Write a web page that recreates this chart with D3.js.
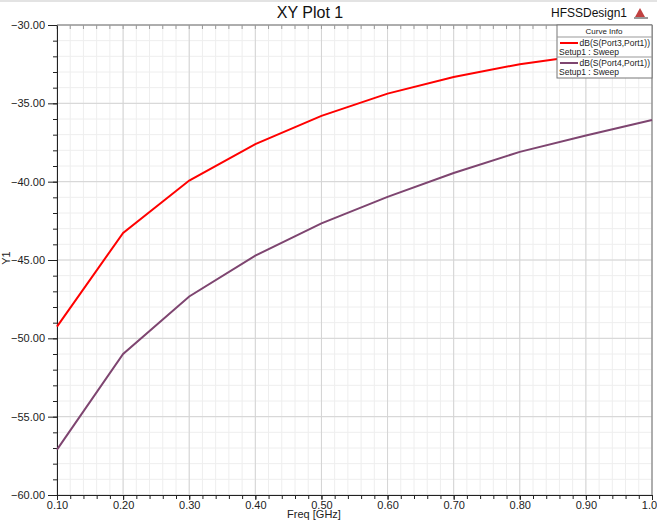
<!DOCTYPE html>
<html>
<head>
<meta charset="utf-8">
<script src="https://cdn.jsdelivr.net/npm/d3@7"></script>
<style>
  body { margin: 0; background: #fff; }
  svg { display: block; font-family: "Liberation Sans", Arial, sans-serif; }
</style>
</head>
<body>
<div id="chart"></div>
<script>
    // Data
    const freq = [0.1, 0.2, 0.3, 0.4, 0.5, 0.6, 0.7, 0.8, 0.9, 1.0];
    const s31 = [-49.25, -43.27, -39.93, -37.6, -35.8, -34.38, -33.32, -32.5, -31.92, -31.45];
    const s41 = [-57.1, -51.0, -47.33, -44.72, -42.66, -40.97, -39.45, -38.1, -37.05, -36.06];
    const xTicks = [0.1, 0.2, 0.3, 0.4, 0.5, 0.6, 0.7, 0.8, 0.9, 1.0];
    const yTicks = [-60, -55, -50, -45, -40, -35, -30];
    const seriesNames = ["dB(S(Port3,Port1))", "dB(S(Port4,Port1))"];
    const seriesColors = ["#ff0000", "#7e4570"];

    const width = 657, height = 521;
    const margin = { top: 25, right: 5, bottom: 26, left: 57 };

    const svg = d3.select("#chart").append("svg")
        .attr("width", width)
        .attr("height", height);

    // thin grey strip at top of window
    svg.append("rect").attr("x", 0).attr("y", 0).attr("width", width).attr("height", 2).attr("fill", "#e3e3e3");

    const x = d3.scaleLinear().domain([0.1, 1.0]).range([margin.left, width - margin.right]);
    const y = d3.scaleLinear().domain([-60, -30]).range([height - margin.bottom, margin.top]);

    // minor grid
    const xMinor = d3.range(0.1, 1.0001, 0.02);
    const yMinor = d3.range(-60, -29.99, 1);
    svg.append("g").selectAll("line").data(xMinor).enter().append("line")
        .attr("x1", d => x(d)).attr("x2", d => x(d))
        .attr("y1", y(-60)).attr("y2", y(-30))
        .attr("stroke", "#eeeeee");
    svg.append("g").selectAll("line").data(yMinor).enter().append("line")
        .attr("x1", x(0.1)).attr("x2", x(1.0))
        .attr("y1", d => y(d)).attr("y2", d => y(d))
        .attr("stroke", "#eeeeee");
    // major grid
    svg.append("g").selectAll("line").data(xTicks).enter().append("line")
        .attr("x1", d => x(d)).attr("x2", d => x(d))
        .attr("y1", y(-60)).attr("y2", y(-30))
        .attr("stroke", "#d4d4d4");
    svg.append("g").selectAll("line").data(yTicks).enter().append("line")
        .attr("x1", x(0.1)).attr("x2", x(1.0))
        .attr("y1", d => y(d)).attr("y2", d => y(d))
        .attr("stroke", "#d4d4d4");

    // top and right frame
    svg.append("line").attr("x1", x(0.1)).attr("x2", x(1.0)).attr("y1", y(-30)).attr("y2", y(-30)).attr("stroke", "#777");
    svg.append("line").attr("x1", x(1.0)).attr("x2", x(1.0)).attr("y1", y(-30)).attr("y2", y(-60)).attr("stroke", "#777");
    // top minor ticks
    svg.append("g").selectAll("line").data(xMinor).enter().append("line")
        .attr("x1", d => x(d)).attr("x2", d => x(d))
        .attr("y1", y(-30)).attr("y2", y(-30) + 4)
        .attr("stroke", "#999");

    // axes
    const fmt = d3.format(".2f");
    const xAxis = svg.append("g").attr("transform", `translate(0,${y(-60)})`)
        .call(d3.axisBottom(x).tickValues(xTicks).tickFormat(fmt).tickSize(5).tickSizeOuter(0));
    svg.append("g").attr("transform", `translate(0,${y(-60)})`)
        .call(d3.axisBottom(x).tickValues(xMinor).tickFormat("").tickSize(4).tickSizeOuter(0))
        .call(g => g.select(".domain").remove());
    const yAxis = svg.append("g").attr("transform", `translate(${x(0.1)},0)`)
        .call(d3.axisLeft(y).tickValues(yTicks).tickFormat(fmt).tickSize(9).tickSizeOuter(0));
    svg.append("g").attr("transform", `translate(${x(0.1)},0)`)
        .call(d3.axisLeft(y).tickValues(yMinor).tickFormat("").tickSize(4).tickSizeOuter(0))
        .call(g => g.select(".domain").remove());
    svg.selectAll(".tick text").attr("font-size", 11).attr("font-family", "Liberation Sans, Arial, sans-serif").attr("fill", "#222");
    svg.selectAll(".tick line, .domain").attr("stroke", "#222");
    xAxis.selectAll(".tick text").attr("dy", "0.75em").attr("y", 6);
    yAxis.selectAll(".tick text").attr("x", -12);

    // lines
    const line = d3.line().x(d => x(d[0])).y(d => y(d[1]));
    [s31, s41].forEach((s, i) => {
        svg.append("path")
            .datum(freq.map((f, j) => [f, s[j]]))
            .attr("fill", "none")
            .attr("stroke", seriesColors[i])
            .attr("stroke-width", 2)
            .attr("d", line);
    });

    // titles
    svg.append("text").attr("x", 310).attr("y", 18).attr("text-anchor", "middle")
        .attr("font-size", 16).attr("fill", "#111").text("XY Plot 1");
    svg.append("text").attr("x", 627).attr("y", 17).attr("text-anchor", "end")
        .attr("font-size", 12).attr("fill", "#111").text("HFSSDesign1");
    // little logo
    const logo = svg.append("g").attr("transform", "translate(634,8)");
    logo.append("path").attr("d", "M6,0 L11,9 L1,9 Z").attr("fill", "#c04040");
    logo.append("rect").attr("x", 0).attr("y", 9).attr("width", 14).attr("height", 2).attr("fill", "#999");
    svg.append("text").attr("x", 10).attr("y", 258).attr("text-anchor", "middle")
        .attr("transform", "rotate(-90,10,258)")
        .attr("font-size", 11).attr("fill", "#222").text("Y1");
    svg.append("text").attr("x", 314).attr("y", 518).attr("text-anchor", "middle")
        .attr("font-size", 11).attr("fill", "#222").text("Freq [GHz]");

    // legend
    const lg = svg.append("g").attr("transform", "translate(557,25)");
    lg.append("rect").attr("width", 95).attr("height", 53).attr("fill", "#fff").attr("stroke", "#777");
    lg.append("text").attr("x", 47).attr("y", 9).attr("text-anchor", "middle").attr("font-size", 8).attr("fill", "#222").text("Curve Info");
    lg.append("line").attr("x1", 0).attr("x2", 95).attr("y1", 12).attr("y2", 12).attr("stroke", "#999");
    lg.append("line").attr("x1", 0).attr("x2", 95).attr("y1", 32).attr("y2", 32).attr("stroke", "#999");
    seriesNames.forEach((n, i) => {
        const oy = 12 + i * 20;
        lg.append("line").attr("x1", 3).attr("x2", 21).attr("y1", oy + 6).attr("y2", oy + 6)
            .attr("stroke", seriesColors[i]).attr("stroke-width", 2);
        lg.append("text").attr("x", 93).attr("y", oy + 8.5).attr("text-anchor", "end")
            .attr("font-size", 8.5).attr("fill", "#222").text(n);
        lg.append("text").attr("x", 2).attr("y", oy + 17.5)
            .attr("font-size", 8.5).attr("fill", "#222").text("Setup1 : Sweep");
    });
</script>
</body>
</html>
